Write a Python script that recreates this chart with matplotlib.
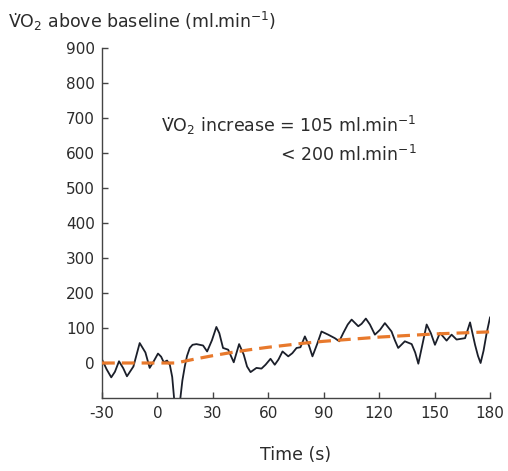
import numpy as np
import matplotlib.pyplot as plt

plt.rcParams['mathtext.default'] = 'regular'
plt.rcParams['font.family'] = 'DejaVu Sans'
plt.rcParams['axes.unicode_minus'] = False

# breath-by-breath VO2 above baseline
time_s = [-30, -27.5, -25, -23, -20.8, -18.5, -16.5, -13, -9.6, -6.5, -4.2, -2, 0.3, 2,
          3.4, 5.2, 6.7, 8, 9, 10.6, 12.2, 13.5, 14.8, 16, 17.5, 19, 21.1, 24.7, 26.9,
          29.5, 31.9, 33.5, 35.5, 38.3, 41.3, 44.2, 46.7, 48.5, 50.4, 53.6, 56.3, 58.5,
          61.2, 63.5, 65.5, 67.7, 70.8, 73, 75.3, 77.4, 79.8, 82, 83.9, 86.5, 88.8,
          92.4, 96, 98.4, 100.6, 103, 105.1, 108.7, 110.5, 112.8, 115, 117.7, 120.5,
          123.1, 126.7, 128.5, 130.3, 133.9, 137.6, 139.5, 141.2, 143.5, 145.7, 148,
          150.2, 152.9, 156.5, 159.2, 161.9, 166.5, 169.2, 171.9, 173.5, 174.9, 176.5,
          178.2, 180]
vo2_above = [10, -18, -41, -25, 5, -15, -38, -10, 57, 30, -14, 5, 27, 18,
             2, 7, -5, -40, -100, -170, -110, -50, -10, 20, 43, 52, 54, 50, 33,
             65, 103, 85, 43, 38, 2, 54, 24, -10, -26, -14, -16, -5,
             12, -5, 10, 33, 19, 28, 43, 45, 76, 50, 19, 55, 90,
             81, 71, 62, 86, 110, 124, 105, 112, 127, 110, 81, 95,
             114, 90, 65, 43, 62, 54, 30, -2, 55, 110, 85,
             52, 86, 64, 81, 67, 71, 116, 52, 20, 0, 35,
             86, 130]

# mono-exponential fit points
fit_time = [-30, -20, -10, 0, 10, 20, 30, 40, 50, 60, 70, 80, 90, 100, 110, 120,
            130, 140, 150, 160, 170, 180]
fit_vo2 = [0, 0, 0, 0, 0, 11, 21, 30, 38, 45, 51, 57, 62, 66, 70, 74,
           77, 80, 83, 85, 87, 89]

text_col = '#2b2b2b'
vdot = 'V\u0307'

fig = plt.figure(figsize=(5.08, 4.71), dpi=100)
ax = fig.add_axes([0.2008, 0.155, 0.7638, 0.743])

ax.plot(time_s, vo2_above, color='#1b1f2a', lw=1.3, solid_joinstyle='round', zorder=2)
ax.plot(fit_time, fit_vo2, color='#e8792c', lw=2.3, dashes=(4, 2.2), zorder=3)

ax.set_xlim(-30, 180)
ax.set_ylim(-100, 900)
ax.set_xticks([-30, 0, 30, 60, 90, 120, 150, 180])
ax.set_yticks(range(0, 1000, 100))

for s in ['top', 'right']:
    ax.spines[s].set_visible(False)
for s in ['left', 'bottom']:
    ax.spines[s].set_color('#444444')
    ax.spines[s].set_linewidth(1.0)

ax.tick_params(direction='in', length=4, width=1.0, colors='#444444',
               labelcolor=text_col, labelsize=11)
ax.tick_params(axis='x', pad=6)
ax.tick_params(axis='y', pad=5)

ax.set_xlabel('Time (s)', fontsize=12.5, color=text_col, labelpad=18)

fig.text(0.016, 0.955, vdot + r'O$_2$ above baseline (ml.min$^{-1}$)',
         fontsize=12.5, color=text_col, ha='left', va='center')

ax.text(0.81, 0.78, vdot + r'O$_2$ increase = 105 ml.min$^{-1}$',
        transform=ax.transAxes, fontsize=12.5, color=text_col, ha='right', va='center')
ax.text(0.81, 0.694, r'< 200 ml.min$^{-1}$',
        transform=ax.transAxes, fontsize=12.5, color=text_col, ha='right', va='center')

fig.savefig('out.png', dpi=100)
